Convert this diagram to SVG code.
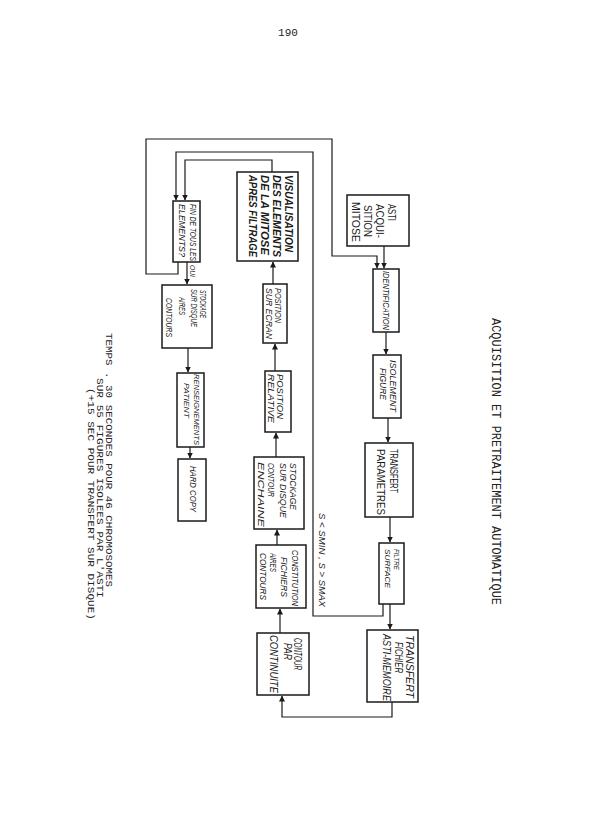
<svg xmlns="http://www.w3.org/2000/svg" width="595" height="836" viewBox="0 0 595 836">
<defs>
<marker id="arr" markerUnits="userSpaceOnUse" markerWidth="6" markerHeight="6" refX="5.5" refY="3" orient="auto">
<path d="M0,0 L6,3 L0,6 z" fill="#1a1a1a"/>
</marker>
<style>
.box{fill:#fff;stroke:#1a1a1a;stroke-width:1.5}
.ln{fill:none;stroke:#1a1a1a;stroke-width:1.2}
.t{font-family:"Liberation Sans",Arial,sans-serif;fill:#1a1a1a;font-style:italic;dominant-baseline:central}
.u{font-style:normal}
.b{font-weight:bold}
.m{font-family:"Liberation Mono","Courier New",monospace;fill:#222;dominant-baseline:central}
</style>
</defs>
<rect width="595" height="836" fill="#fff"/>
<text class="m" x="288" y="33" font-size="11" text-anchor="middle">190</text>
<text class="m" font-size="12" transform="translate(495,318) rotate(90)" textLength="287" lengthAdjust="spacingAndGlyphs">ACQUISITION ET PRETRAITEMENT AUTOMATIQUE</text>
<g id="caption">
<text class="m" font-size="9.5" transform="translate(108,333) rotate(90)" textLength="254" lengthAdjust="spacingAndGlyphs">TEMPS . 30 SECONDES POUR 46 CHROMOSOMES</text>
<text class="m" font-size="9.5" transform="translate(99,378) rotate(90)" textLength="220" lengthAdjust="spacingAndGlyphs">SUR 55 FIGURES ISOLEES PAR L'ASTI</text>
<text class="m" font-size="9.5" transform="translate(90,388) rotate(90)" textLength="232" lengthAdjust="spacingAndGlyphs">(+15 SEC POUR TRANSFERT SUR DISQUE)</text>
</g>
<g id="connectors">
<path class="ln" d="M384,246 V268" marker-end="url(#arr)"/>
<path class="ln" d="M178,262 V274 H146 V139 H332 V256 H377 V268" marker-end="url(#arr)"/>
<path class="ln" d="M386,332 V354" marker-end="url(#arr)"/>
<path class="ln" d="M388,418 V442" marker-end="url(#arr)"/>
<path class="ln" d="M390,517 V542" marker-end="url(#arr)"/>
<path class="ln" d="M390,604 V629" marker-end="url(#arr)"/>
<path class="ln" d="M383,604 V616 H313 V152 H176 V200" marker-end="url(#arr)"/>
<path class="ln" d="M392,702 V717 H282 V696" marker-end="url(#arr)"/>
<path class="ln" d="M280,633 V609" marker-end="url(#arr)"/>
<path class="ln" d="M277,545 V530" marker-end="url(#arr)"/>
<path class="ln" d="M276,457 V433" marker-end="url(#arr)"/>
<path class="ln" d="M275,371 V344" marker-end="url(#arr)"/>
<path class="ln" d="M273,284 V262" marker-end="url(#arr)"/>
<path class="ln" d="M272,172 V160 H185 V200" marker-end="url(#arr)"/>
<path class="ln" d="M187,262 V284" marker-end="url(#arr)"/>
<path class="ln" d="M188,348 V372" marker-end="url(#arr)"/>
<path class="ln" d="M190,447 V458" marker-end="url(#arr)"/>
<text class="t" font-size="8" transform="translate(192,265) rotate(90)" textLength="12" lengthAdjust="spacingAndGlyphs">OUI</text>
<text class="t" font-size="9" transform="translate(322,513) rotate(90)" textLength="94" lengthAdjust="spacingAndGlyphs">S &lt; SMIN , S &gt; SMAX</text>
</g>
<g id="asti">
<rect class="box" x="347" y="195" width="62" height="51"/>
<text class="t u" font-size="10" transform="translate(391,204) rotate(90)" textLength="17" lengthAdjust="spacingAndGlyphs">ASTI</text>
<text class="t u" font-size="10" transform="translate(379,204) rotate(90)" textLength="34" lengthAdjust="spacingAndGlyphs">ACQUI-</text>
<text class="t u" font-size="10" transform="translate(367,205) rotate(90)" textLength="32" lengthAdjust="spacingAndGlyphs">SITION</text>
<text class="t u" font-size="10" transform="translate(355,202) rotate(90)" textLength="40" lengthAdjust="spacingAndGlyphs">MITOSE</text>
</g>
<g id="identification">
<rect class="box" x="373" y="269" width="26" height="63"/>
<text class="t" font-size="9" transform="translate(386,271) rotate(90)" textLength="59" lengthAdjust="spacingAndGlyphs">IDENTIFICATION</text>
</g>
<g id="isolement">
<rect class="box" x="373" y="355" width="28" height="63"/>
<text class="t" font-size="9" transform="translate(393,360) rotate(90)" textLength="52" lengthAdjust="spacingAndGlyphs">ISOLEMENT</text>
<text class="t" font-size="9" transform="translate(383,368) rotate(90)" textLength="32" lengthAdjust="spacingAndGlyphs">FIGURE</text>
</g>
<g id="transfert-parametres">
<rect class="box" x="365" y="443" width="48" height="74"/>
<text class="t u" font-size="11" transform="translate(394,449) rotate(90)" textLength="44" lengthAdjust="spacingAndGlyphs">TRANSFERT</text>
<text class="t u" font-size="11" transform="translate(381,449) rotate(90)" textLength="66" lengthAdjust="spacingAndGlyphs">PARAMETRES</text>
</g>
<g id="filtre">
<rect class="box" x="379" y="543" width="25" height="61"/>
<text class="t" font-size="8" transform="translate(396,549) rotate(90)" textLength="21" lengthAdjust="spacingAndGlyphs">FILTRE</text>
<text class="t" font-size="8" transform="translate(387,549) rotate(90)" textLength="39" lengthAdjust="spacingAndGlyphs">SURFACE</text>
</g>
<g id="transfert-fichier">
<rect class="box" x="367" y="630" width="51" height="72"/>
<text class="t" font-size="10" transform="translate(409,635) rotate(90)" textLength="63" lengthAdjust="spacingAndGlyphs">TRANSFERT</text>
<text class="t" font-size="10" transform="translate(398,642) rotate(90)" textLength="31" lengthAdjust="spacingAndGlyphs">FICHIER</text>
<text class="t" font-size="10" transform="translate(386,634) rotate(90)" textLength="67" lengthAdjust="spacingAndGlyphs">ASTI-MEMOIRE</text>
</g>
<g id="contour">
<rect class="box" x="257" y="633" width="52" height="62"/>
<text class="t" font-size="10" transform="translate(297,638) rotate(90)" textLength="32" lengthAdjust="spacingAndGlyphs">CONTOUR</text>
<text class="t" font-size="10" transform="translate(287,643) rotate(90)" textLength="17" lengthAdjust="spacingAndGlyphs">PAR</text>
<text class="t" font-size="10" transform="translate(273,635) rotate(90)" textLength="58" lengthAdjust="spacingAndGlyphs">CONTINUITE</text>
</g>
<g id="constitution">
<rect class="box" x="256" y="545" width="50" height="63"/>
<text class="t" font-size="9" transform="translate(295,550) rotate(90)" textLength="56" lengthAdjust="spacingAndGlyphs">CONSTITUTION</text>
<text class="t" font-size="9" transform="translate(284,557) rotate(90)" textLength="40" lengthAdjust="spacingAndGlyphs">FICHIERS</text>
<text class="t" font-size="9" transform="translate(273,553) rotate(90)" textLength="19" lengthAdjust="spacingAndGlyphs">AIRES</text>
<text class="t" font-size="9" transform="translate(263,553) rotate(90)" textLength="47" lengthAdjust="spacingAndGlyphs">CONTOURS</text>
</g>
<g id="stockage-enchaine">
<rect class="box" x="254" y="457" width="50" height="72"/>
<text class="t" font-size="9" transform="translate(293,463) rotate(90)" textLength="47" lengthAdjust="spacingAndGlyphs">STOCKAGE</text>
<text class="t" font-size="9" transform="translate(283,463) rotate(90)" textLength="55" lengthAdjust="spacingAndGlyphs">SUR DISQUE</text>
<text class="t" font-size="9" transform="translate(271,463) rotate(90)" textLength="34" lengthAdjust="spacingAndGlyphs">CONTOUR</text>
<text class="t" font-size="9" transform="translate(261,462) rotate(90)" textLength="65" lengthAdjust="spacingAndGlyphs">ENCHAINE</text>
</g>
<g id="position-relative">
<rect class="box" x="265" y="371" width="26" height="61"/>
<text class="t" font-size="9" transform="translate(280,374) rotate(90)" textLength="45" lengthAdjust="spacingAndGlyphs">POSITION</text>
<text class="t" font-size="9" transform="translate(271,374) rotate(90)" textLength="49" lengthAdjust="spacingAndGlyphs">RELATIVE</text>
</g>
<g id="position-ecran">
<rect class="box" x="263" y="284" width="24" height="59"/>
<text class="t" font-size="9" transform="translate(278,288) rotate(90)" textLength="35" lengthAdjust="spacingAndGlyphs">POSITION</text>
<text class="t" font-size="9" transform="translate(269,288) rotate(90)" textLength="51" lengthAdjust="spacingAndGlyphs">SUR ECRAN</text>
</g>
<g id="visualisation">
<rect class="box" x="237" y="172" width="61" height="89"/>
<text class="t b" font-size="10" transform="translate(288,175) rotate(90)" textLength="77" lengthAdjust="spacingAndGlyphs">VISUALISATION</text>
<text class="t b" font-size="10" transform="translate(276,175) rotate(90)" textLength="82" lengthAdjust="spacingAndGlyphs">DES ELEMENTS</text>
<text class="t b" font-size="10" transform="translate(264,175) rotate(90)" textLength="80" lengthAdjust="spacingAndGlyphs">DE LA MITOSE</text>
<text class="t b" font-size="10" transform="translate(252,175) rotate(90)" textLength="82" lengthAdjust="spacingAndGlyphs">APRES FILTRAGE</text>
</g>
<g id="fin">
<rect class="box" x="173" y="201" width="27" height="61"/>
<text class="t" font-size="8.5" transform="translate(193,204) rotate(90)" textLength="57" lengthAdjust="spacingAndGlyphs">FIN DE TOUS LES</text>
<text class="t" font-size="8.5" transform="translate(182,204) rotate(90)" textLength="53" lengthAdjust="spacingAndGlyphs">ELEMENTS?</text>
</g>
<g id="stockage-aires">
<rect class="box" x="162" y="285" width="50" height="63"/>
<text class="t" font-size="8.5" transform="translate(203,290) rotate(90)" textLength="28" lengthAdjust="spacingAndGlyphs">STOCKAGE</text>
<text class="t" font-size="8.5" transform="translate(194,289) rotate(90)" textLength="38" lengthAdjust="spacingAndGlyphs">SUR DISQUE</text>
<text class="t" font-size="8.5" transform="translate(182,297) rotate(90)" textLength="18" lengthAdjust="spacingAndGlyphs">AIRES</text>
<text class="t" font-size="8.5" transform="translate(169,298) rotate(90)" textLength="39" lengthAdjust="spacingAndGlyphs">CONTOURS</text>
</g>
<g id="renseignements">
<rect class="box" x="177" y="373" width="27" height="74"/>
<text class="t" font-size="8" transform="translate(196,374) rotate(90)" textLength="71" lengthAdjust="spacingAndGlyphs">RENSEIGNEMENTS</text>
<text class="t" font-size="8" transform="translate(186,383) rotate(90)" textLength="35" lengthAdjust="spacingAndGlyphs">PATIENT</text>
</g>
<g id="hard-copy">
<rect class="box" x="178" y="459" width="28" height="62"/>
<text class="t" font-size="9" transform="translate(193,466) rotate(90)" textLength="46" lengthAdjust="spacingAndGlyphs">HARD COPY</text>
</g>
</svg>
